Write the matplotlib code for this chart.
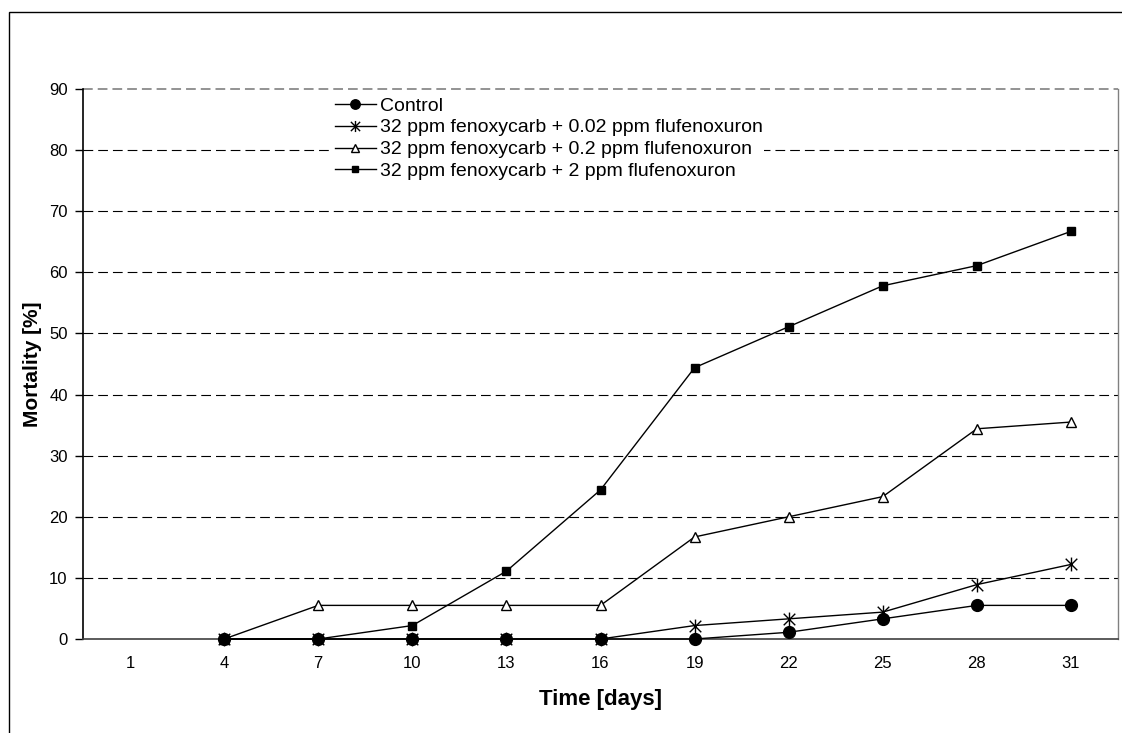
import matplotlib
matplotlib.use("Agg")
import matplotlib.pyplot as plt
from matplotlib.patches import Rectangle
from matplotlib.path import Path

plt.rcParams['font.family'] = ['Liberation Sans', 'DejaVu Sans']
plt.rcParams['lines.scale_dashes'] = False

# data
days = ["1", "4", "7", "10", "13", "16", "19", "22", "25", "28", "31"]
dataDays = ["4", "7", "10", "13", "16", "19", "22", "25", "28", "31"]
control = [0, 0, 0, 0, 0, 0, 1.1, 3.3, 5.5, 5.5]
flu002 = [0, 0, 0, 0, 0, 2.2, 3.3, 4.4, 8.9, 12.2]
flu02 = [0, 5.5, 5.5, 5.5, 5.5, 16.7, 20.0, 23.3, 34.4, 35.5]
flu2 = [0, 0, 2.2, 11.1, 24.4, 44.4, 51.1, 57.8, 61.1, 66.7]
seriesLabels = ["Control",
                "32 ppm fenoxycarb + 0.02 ppm flufenoxuron",
                "32 ppm fenoxycarb + 0.2 ppm flufenoxuron",
                "32 ppm fenoxycarb + 2 ppm flufenoxuron"]
yTicks = [0, 10, 20, 30, 40, 50, 60, 70, 80, 90]

# excel style asterisk: an X with a vertical bar through it
starMarker = Path([(-1, -1), (1, 1), (-1, 1), (1, -1), (0, -1.2), (0, 1.2)],
                  [Path.MOVETO, Path.LINETO] * 3)

fig = plt.figure(figsize=(11.22, 7.33), dpi=100)
ax = fig.add_axes([83/1122, 1 - 639/733, (1118 - 83)/1122, (639 - 89)/733])

# outer chart border (runs off the right and bottom of the picture)
fig.patches.append(Rectangle((9/1122, -0.05), 1.2, 1 - 12/733 + 0.05,
                             transform=fig.transFigure, fill=False,
                             edgecolor='black', linewidth=1.0))

xPos = [days.index(d) for d in dataDays]
lineKw = dict(color='black', linewidth=1.0, clip_on=False, zorder=3)
ax.plot(xPos, control, marker='o', markersize=8.5, markerfacecolor='black',
        markeredgecolor='black', label=seriesLabels[0], **lineKw)
ax.plot(xPos, flu002, marker=starMarker, markersize=10, markeredgewidth=1.0,
        markeredgecolor='black', label=seriesLabels[1], **lineKw)
ax.plot(xPos, flu02, marker='^', markersize=7.5, markerfacecolor='white',
        markeredgecolor='black', markeredgewidth=1.0, label=seriesLabels[2], **lineKw)
ax.plot(xPos, flu2, marker='s', markersize=6, markerfacecolor='black',
        markeredgecolor='black', label=seriesLabels[3], **lineKw)

ax.set_xlim(-0.5, len(days) - 0.5)
ax.set_ylim(0, 90)
ax.set_xticks(range(len(days)))
ax.set_xticklabels(days)
ax.set_yticks(yTicks)
ax.tick_params(axis='x', length=0, pad=12, labelsize=12)
ax.tick_params(axis='y', direction='out', length=6, width=1, pad=5, labelsize=12)

for y in yTicks[1:-1]:
    ax.axhline(y, color='black', linewidth=0.8, linestyle=(0, (7, 3.6)), zorder=0.5)
ax.axhline(90, color='#808080', linewidth=1.2, linestyle=(0, (7, 3.6)), zorder=0.5, clip_on=False)

ax.spines['left'].set_color('black')
ax.spines['left'].set_linewidth(1.2)
ax.spines['bottom'].set_color('#404040')
ax.spines['bottom'].set_linewidth(1.2)
ax.spines['right'].set_color('#808080')
ax.spines['right'].set_linewidth(1.0)
ax.spines['top'].set_visible(False)

ax.set_ylabel("Mortality [%]", fontsize=15, fontweight='bold', labelpad=5)
ax.set_xlabel("Time [days]", fontsize=16, fontweight='bold', labelpad=13)

leg = ax.legend(loc='upper left', bbox_to_anchor=((333 - 83)/1035, 1 - 6/550),
                frameon=True, facecolor='white', edgecolor='none', framealpha=1,
                fancybox=False, fontsize=14, handlelength=2.1, handletextpad=0.2,
                labelspacing=0.22, borderpad=0.1, borderaxespad=0, markerscale=0.8)
leg.set_zorder(4)

fig.savefig("out.png", dpi=100)
